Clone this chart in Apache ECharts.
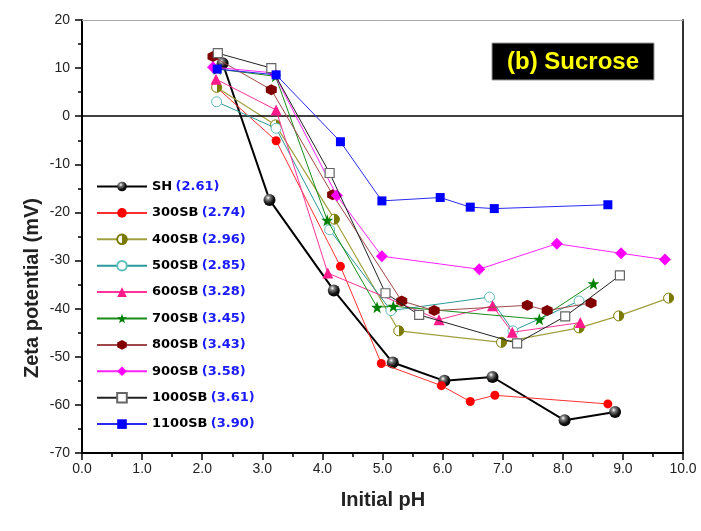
<!DOCTYPE html>
<html>
<head>
<meta charset="utf-8">
<script src="https://cdn.jsdelivr.net/npm/echarts@6/dist/echarts.min.js"></script>
<style>html,body{margin:0;padding:0;background:#fff}#c{width:701px;height:531px}</style>
</head>
<body>
<div id="c"></div>
<script>
// ---- data (x = initial pH, y = zeta potential mV) ----
const seriesNames = ['SH','300SB','400SB','500SB','600SB','700SB','800SB','900SB','1000SB','1100SB'];
const legendValues = ['(2.61)','(2.74)','(2.96)','(2.85)','(3.28)','(3.45)','(3.43)','(3.58)','(3.61)','(3.90)'];

const SH      = [[2.34,11.0],[3.12,-17.4],[4.19,-36.2],[5.17,-51.2],[6.03,-55.0],[6.83,-54.2],[8.03,-63.2],[8.87,-61.5]];
const S300    = [[2.24,6.0],[3.23,-5.1],[4.30,-31.2],[4.98,-51.4],[5.98,-56.0],[6.46,-59.3],[6.87,-58.0],[8.75,-59.8]];
const S400    = [[2.24,6.0],[3.22,-1.8],[4.20,-21.4],[5.27,-44.6],[6.98,-47.0],[8.27,-44.0],[8.93,-41.5],[9.76,-37.8]];
const S500    = [[2.24,3.0],[3.23,-2.5],[4.12,-23.6],[5.14,-40.4],[6.78,-37.6],[7.17,-44.6],[8.27,-38.4]];
const S600    = [[2.23,7.7],[3.23,1.3],[4.09,-32.6],[5.94,-42.3],[6.83,-39.4],[7.16,-44.9],[8.29,-42.9]];
const S700    = [[2.25,9.8],[3.22,8.3],[4.08,-21.6],[4.91,-39.7],[5.18,-39.5],[7.61,-42.2],[8.51,-34.8]];
const S800    = [[2.18,12.4],[3.15,5.5],[4.17,-16.3],[5.32,-38.4],[5.86,-40.4],[7.41,-39.3],[7.74,-40.4],[8.47,-38.8]];
const S900    = [[2.18,10.2],[3.19,9.0],[4.24,-16.5],[4.99,-29.1],[6.61,-31.8],[7.90,-26.5],[8.97,-28.5],[9.70,-29.8]];
const S1000   = [[2.26,13.1],[3.15,10.0],[4.12,-11.8],[5.05,-36.8],[5.61,-41.3],[7.24,-47.2],[8.04,-41.6],[8.95,-33.1]];
const S1100   = [[2.25,9.8],[3.23,8.6],[4.30,-5.3],[4.99,-17.6],[5.96,-16.9],[6.46,-18.9],[6.86,-19.2],[8.75,-18.4]];

const xTicksMin = 0, xTicksMax = 10, xStep = 1;
const yTicksMin = -70, yTicksMax = 20, yStep = 10;

const titleText = '(b) Sucrose';
const xTitle = 'Initial pH';
const yTitle = 'Zeta potential (mV)';

// ---- styles ----
const STAR = 'path://M0,-10 L2.35,-3.24 L9.51,-3.09 L3.8,1.24 L5.88,8.09 L0,4 L-5.88,8.09 L-3.8,1.24 L-9.51,-3.09 L-2.35,-3.24 Z';
const HEX = 'path://M0,-10 L8.66,-5 L8.66,5 L0,10 L-8.66,5 L-8.66,-5 Z';
const sphere = {type:'radial', x:0.38, y:0.32, r:0.75, colorStops:[{offset:0,color:'#ffffff'},{offset:0.25,color:'#777'},{offset:0.65,color:'#111'},{offset:1,color:'#000'}]};
const halfOlive = {type:'linear', x:0, y:0, x2:1, y2:0, colorStops:[{offset:0,color:'#ffffff'},{offset:0.5,color:'#ffffff'},{offset:0.5,color:'#7a7a00'},{offset:1,color:'#7a7a00'}]};

const styles = [
  {data:SH,    symbol:'circle',   size:12, item:{color:sphere}, line:{color:'#000', width:2}},
  {data:S300,  symbol:'circle',   size:9,  item:{color:'#ff0000'}, line:{color:'#ff3030', width:1}},
  {data:S400,  symbol:'circle',   size:10, item:{color:halfOlive, borderColor:'#7a7a00', borderWidth:1}, line:{color:'#a0a040', width:1.2}},
  {data:S500,  symbol:'circle',   size:10, item:{color:'#ffffff', borderColor:'#5fbdbd', borderWidth:1}, line:{color:'#2a9a9a', width:1}},
  {data:S600,  symbol:'triangle', size:11, item:{color:'#ff1a8c'}, line:{color:'#ff3399', width:1}},
  {data:S700,  symbol:STAR,       size:12, item:{color:'#008000'}, line:{color:'#1a8c1a', width:1}},
  {data:S800,  symbol:HEX,        size:11, item:{color:'#800000'}, line:{color:'#a04848', width:1}},
  {data:S900,  symbol:'diamond',  size:12, item:{color:'#ff00ff'}, line:{color:'#ff22ff', width:1}},
  {data:S1000, symbol:'rect',     size:9,  item:{color:'#ffffff', borderColor:'#666', borderWidth:1.2}, line:{color:'#222', width:1}},
  {data:S1100, symbol:'rect',     size:9,  item:{color:'#0000ff'}, line:{color:'#2a2af0', width:1}}
];

const series = styles.map((s, i) => {
  const o = {
    name: seriesNames[i], type:'line', data:s.data, symbol:s.symbol, symbolSize:s.size,
    itemStyle:s.item, lineStyle:s.line, showSymbol:true, animation:false, z:2+i,
    emphasis:{disabled:true}
  };
  if (i === 0) {
    o.markLine = {silent:true, symbol:'none', animation:false, label:{show:false},
      lineStyle:{color:'#000', width:1.6, type:'solid'}, data:[{yAxis:0}]};
  }
  return o;
});

const chart = echarts.init(document.getElementById('c'), null, {renderer:'canvas'});
const axisFont = {fontFamily:'"Liberation Sans", Arial, sans-serif', fontSize:14, color:'#222'};

chart.setOption({
  animation:false,
  backgroundColor:'#fff',
  grid:{left:82, right:18, top:20, bottom:78, show:false},
  xAxis:[
    {type:'value', min:xTicksMin, max:xTicksMax, interval:xStep, position:'bottom',
     axisLine:{show:true, onZero:false, lineStyle:{color:'#000', width:2}},
     axisTick:{show:true, inside:false, length:7, lineStyle:{color:'#000', width:1.5}},
     minorTick:{show:true, splitNumber:2, length:4, lineStyle:{color:'#000', width:1.5}},
     splitLine:{show:false},
     axisLabel:Object.assign({margin:9, formatter:v => v.toFixed(1)}, axisFont)},
    {type:'value', min:xTicksMin, max:xTicksMax, position:'top',
     axisLine:{show:true, onZero:false, lineStyle:{color:'#aaa', width:1}},
     axisTick:{show:false}, axisLabel:{show:false}, splitLine:{show:false}}
  ],
  yAxis:[
    {type:'value', min:yTicksMin, max:yTicksMax, interval:yStep, position:'left',
     axisLine:{show:true, onZero:false, lineStyle:{color:'#000', width:2}},
     axisTick:{show:true, inside:false, length:7, lineStyle:{color:'#000', width:1.5}},
     minorTick:{show:true, splitNumber:2, length:4, lineStyle:{color:'#000', width:1.5}},
     splitLine:{show:false},
     axisLabel:Object.assign({margin:12}, axisFont)},
    {type:'value', min:yTicksMin, max:yTicksMax, position:'right',
     axisLine:{show:true, onZero:false, lineStyle:{color:'#333', width:2}},
     axisTick:{show:false}, axisLabel:{show:false}, splitLine:{show:false}}
  ],
  legend:{
    show:true, orient:'vertical', left:96, top:180, padding:0, itemWidth:50, itemHeight:12, itemGap:13.4,
    data:seriesNames, selectedMode:false,
    formatter: name => '{n|' + name + '} {v|' + legendValues[seriesNames.indexOf(name)] + '}',
    textStyle:{padding:[0,0,0,0], rich:{
      n:{fontFamily:'"DejaVu Sans", Verdana, sans-serif', fontWeight:'bold', fontSize:13, color:'#000', lineHeight:14},
      v:{fontFamily:'"DejaVu Sans", Verdana, sans-serif', fontWeight:'bold', fontSize:13, color:'#1a1aff', lineHeight:14}
    }}
  },
  graphic:[
    {type:'rect', shape:{x:492, y:43, width:162, height:37}, style:{fill:'#000', stroke:'#999', lineWidth:1}, z:100},
    {type:'text', x:573, y:62, z:101, style:{text:titleText, fill:'#ffff00', textAlign:'center', textVerticalAlign:'middle',
      font:'bold 24px "Liberation Sans", Arial, sans-serif'}},
    {type:'text', x:383, y:500, z:101, style:{text:xTitle, fill:'#222', textAlign:'center', textVerticalAlign:'middle',
      font:'bold 20px "Liberation Sans", Arial, sans-serif'}},
    {type:'text', x:32, y:288, rotation:Math.PI/2, z:101, style:{text:yTitle, fill:'#222', textAlign:'center', textVerticalAlign:'middle',
      font:'bold 20px "Liberation Sans", Arial, sans-serif'}}
  ],
  series:series
});
</script>
</body>
</html>
